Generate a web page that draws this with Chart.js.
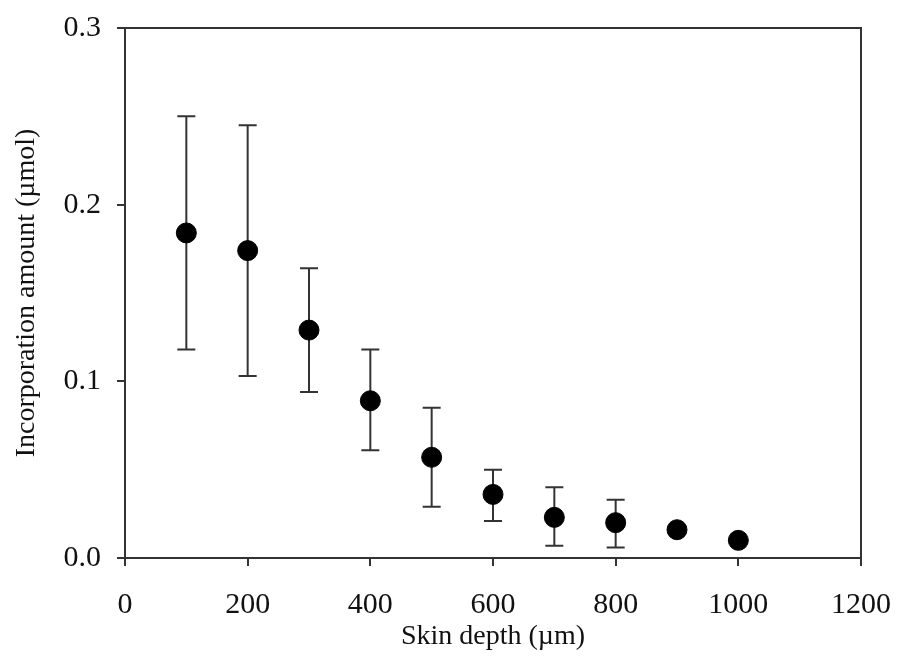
<!DOCTYPE html>
<html>
<head>
<meta charset="utf-8">
<script src="https://cdn.jsdelivr.net/npm/chart.js@4.4.1/dist/chart.umd.min.js"></script>
<style>
  html, body { margin: 0; padding: 0; background: #fff; }
  #wrap { width: 898px; height: 668px; }
</style>
</head>
<body>
<div id="wrap"><canvas id="depthChart" width="898" height="668"></canvas></div>
<script>
const depths = [100, 200, 300, 400, 500, 600, 700, 800, 900, 1000];
const amounts = [0.184, 0.174, 0.129, 0.089, 0.057, 0.036, 0.023, 0.020, 0.016, 0.010];
const errUpper = [0.250, 0.245, 0.164, 0.118, 0.085, 0.050, 0.040, 0.033, null, null];
const errLower = [0.118, 0.103, 0.094, 0.061, 0.029, 0.021, 0.007, 0.006, null, null];
const xTicks = [0, 200, 400, 600, 800, 1000, 1200];
const yTicks = [0.0, 0.1, 0.2, 0.3];

const lineColor = '#333';
const tickFont = { family: '"Liberation Serif", "Times New Roman", serif', size: 30 };
const titleFont = { family: '"Liberation Serif", "Times New Roman", serif', size: 28 };

const errorBars = {
  id: 'errorBars',
  beforeDatasetsDraw(chart) {
    const { ctx, scales: { x, y } } = chart;
    ctx.save();
    ctx.strokeStyle = lineColor;
    ctx.lineWidth = 2;
    depths.forEach((d, i) => {
      if (errUpper[i] == null) return;
      const px = x.getPixelForValue(d);
      const top = y.getPixelForValue(errUpper[i]);
      const bot = y.getPixelForValue(errLower[i]);
      ctx.beginPath();
      ctx.moveTo(px, top); ctx.lineTo(px, bot);
      ctx.moveTo(px - 9, top); ctx.lineTo(px + 9, top);
      ctx.moveTo(px - 9, bot); ctx.lineTo(px + 9, bot);
      ctx.stroke();
    });
    ctx.restore();
  },
  afterDraw(chart) {
    const { ctx, chartArea: a } = chart;
    ctx.save();
    ctx.strokeStyle = lineColor;
    ctx.lineWidth = 2;
    ctx.beginPath();
    ctx.moveTo(a.left, a.top); ctx.lineTo(a.right, a.top);
    ctx.lineTo(a.right, a.bottom);
    ctx.stroke();
    ctx.restore();
  }
};

new Chart(document.getElementById('depthChart'), {
  type: 'scatter',
  data: {
    datasets: [{
      data: depths.map((d, i) => ({ x: d, y: amounts[i] })),
      backgroundColor: '#000',
      borderColor: '#000',
      pointRadius: 10,
      pointHoverRadius: 10
    }]
  },
  options: {
    responsive: false,
    animation: false,
    layout: { padding: { top: 28, right: 37, left: 0, bottom: 0 } },
    plugins: { legend: { display: false }, tooltip: { enabled: false } },
    scales: {
      x: {
        type: 'linear',
        min: 0, max: 1200,
        afterBuildTicks: s => { s.ticks = xTicks.map(v => ({ value: v })); },
        afterFit: s => { s.height = 110; s.paddingLeft = 0; s.paddingRight = 0; },
        ticks: { font: tickFont, color: '#111', padding: 21, maxRotation: 0, callback: v => String(v) },
        grid: { drawOnChartArea: false, drawTicks: true, tickLength: 8, color: lineColor, lineWidth: 2 },
        border: { display: true, color: lineColor, width: 2 },
        title: { display: true, text: 'Skin depth (µm)', font: titleFont, color: '#111', padding: { top: 0, bottom: 15 } }
      },
      y: {
        type: 'linear',
        min: 0, max: 0.3,
        afterBuildTicks: s => { s.ticks = yTicks.map(v => ({ value: v })); },
        afterFit: s => { s.width = 125; s.paddingTop = 0; s.paddingBottom = 0; },
        ticks: { font: tickFont, color: '#111', padding: 16, callback: v => v.toFixed(1) },
        grid: { drawOnChartArea: false, drawTicks: true, tickLength: 8, color: lineColor, lineWidth: 2 },
        border: { display: true, color: lineColor, width: 2 },
        title: { display: true, text: 'Incorporation amount (µmol)', font: titleFont, color: '#111', padding: { top: 10, bottom: 0 } }
      }
    }
  },
  plugins: [errorBars]
});
</script>
</body>
</html>
